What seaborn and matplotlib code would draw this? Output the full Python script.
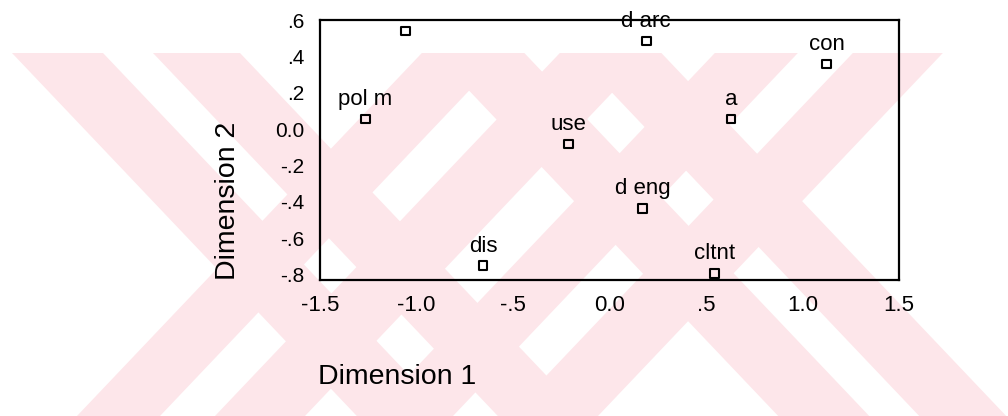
import matplotlib
matplotlib.use("Agg")
import matplotlib.pyplot as plt
from matplotlib.patches import Polygon
import seaborn as sns
import pandas as pd

# Object coordinates in the two-dimensional solution
labels = ["", "d arc", "con", "pol m", "a", "use", "d eng", "dis", "cltnt"]
dim1 = [-1.056, 0.19, 1.126, -1.264, 0.629, -0.213, 0.173, -0.655, 0.545]
dim2 = [0.54, 0.485, 0.358, 0.055, 0.055, -0.082, -0.436, -0.751, -0.793]

xticks = [-1.5, -1.0, -0.5, 0.0, 0.5, 1.0, 1.5]
xticklabels = ["-1.5", "-1.0", "-.5", "0.0", ".5", "1.0", "1.5"]
yticks = [0.6, 0.4, 0.2, 0.0, -0.2, -0.4, -0.6, -0.8]
yticklabels = [".6", ".4", ".2", "0.0", "-.2", "-.4", "-.6", "-.8"]

df = pd.DataFrame({"Dimension 1": dim1, "Dimension 2": dim2, "label": labels})

sns.set_style("white")
plt.rcParams["font.family"] = ["Liberation Sans", "DejaVu Sans"]
plt.rcParams["text.color"] = "black"

W, H = 1008, 416
fig = plt.figure(figsize=(W / 100, H / 100), dpi=100)
fig.patch.set_facecolor("white")

# Page watermark: two pale crossed double-stroke shapes behind the plot
bg = fig.add_axes([0, 0, 1, 1], zorder=-5)
bg.set_xlim(0, W)
bg.set_ylim(H, 0)
bg.axis("off")
PINK = "#fde6ea"
TOP, BOT = 53, H
SL = 0.95


def stroke(x_ref, y_ref, direction, bands):
    """Parallel bands of one diagonal stroke; direction +1 = '\\', -1 = '/'."""
    def xl(y):
        return x_ref + direction * SL * (y - y_ref)
    for a, b in bands:
        pts = [(xl(TOP) + a, TOP), (xl(TOP) + b, TOP),
               (xl(BOT) + b, BOT), (xl(BOT) + a, BOT)]
        bg.add_patch(Polygon(pts, closed=True, facecolor=PINK,
                             edgecolor="none"))


back_bands = [(0, 91), (141, 228)]
fwd_bands = [(0, 83), (138, 228)]
stroke(12, 53, +1, back_bands)
stroke(77, 416, -1, fwd_bands)
stroke(687, 320, +1, back_bands)
stroke(370, 416, -1, fwd_bands)

ax = fig.add_axes([320 / W, 1 - 280 / H, (899 - 320) / W, 260 / H])
ax.set_facecolor("none")

sns.scatterplot(data=df, x="Dimension 1", y="Dimension 2", marker="s", s=40,
                facecolor="none", edgecolor="black", linewidth=1.5, ax=ax,
                legend=False, zorder=3)

for xv, yv, lab in zip(dim1, dim2, labels):
    if lab:
        ax.annotate(lab, (xv, yv), xytext=(0, 10), textcoords="offset points",
                    ha="center", va="baseline", fontsize=16, color="black",
                    annotation_clip=False)

ax.set_xlim(-1.5, 1.5)
ax.set_ylim(-0.83, 0.6)
ax.set_xticks(xticks)
ax.set_xticklabels(xticklabels, fontsize=16, color="black")
ax.set_yticks(yticks)
ax.set_yticklabels(yticklabels, fontsize=15, color="black")
ax.tick_params(direction="out", length=5, width=1.2, color="black", pad=6)
ax.set_xlabel("")
ax.set_ylabel("")
for sp in ax.spines.values():
    sp.set_visible(True)
    sp.set_color("black")
    sp.set_linewidth(1.6)

fig.text(228 / W, 1 - 201 / H, "Dimension 2", rotation=90, ha="center",
         va="center", fontsize=20.5, color="black")
fig.text(318 / W, 1 - 377 / H, "Dimension 1", ha="left", va="center",
         fontsize=20.5, color="black")

fig.savefig("out.png", dpi=100)
